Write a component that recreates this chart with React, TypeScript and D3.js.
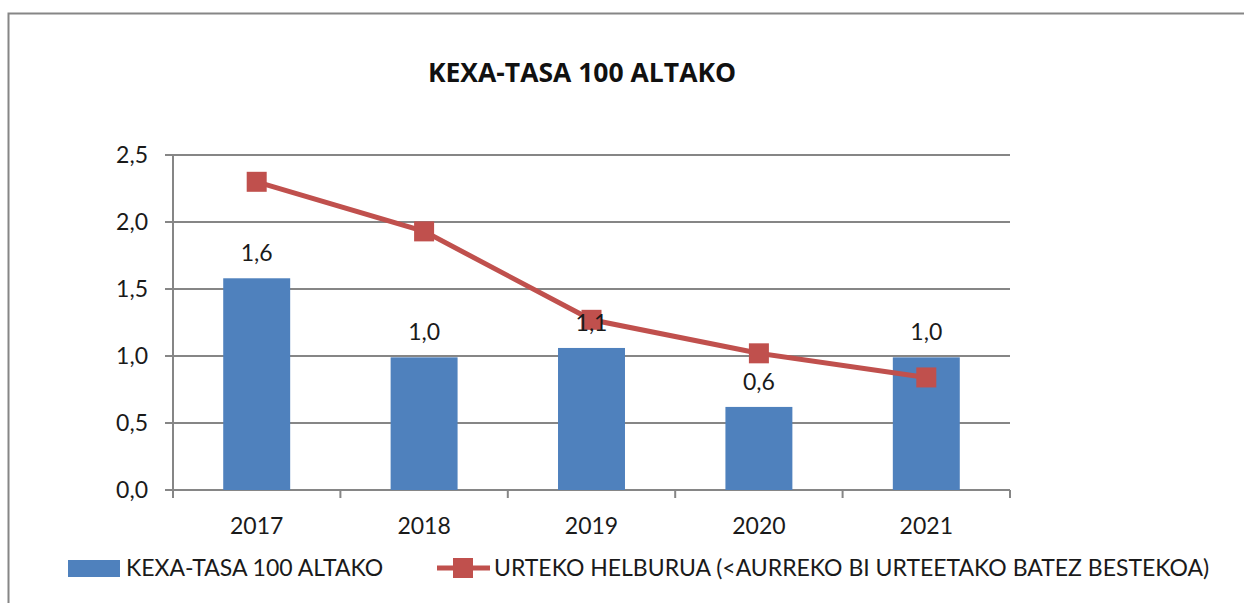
import React, { useEffect, useRef } from 'react';
import * as d3 from 'd3';

const years = ['2017', '2018', '2019', '2020', '2021'];
const rateValues = [1.58, 0.99, 1.06, 0.62, 0.99];
const rateLabels = ['1,6', '1,0', '1,1', '0,6', '1,0'];
const targetValues = [2.3, 1.93, 1.27, 1.02, 0.84];
const yTicks = [0, 0.5, 1, 1.5, 2, 2.5];
const titleText = 'KEXA-TASA 100 ALTAKO';
const barName = 'KEXA-TASA 100 ALTAKO';
const lineName = 'URTEKO HELBURUA (<AURREKO BI URTEETAKO BATEZ BESTEKOA)';

const W = 1244, H = 603;
const FONT = 'Lato, "Open Sans", sans-serif';

export default function App() {
    const ref = useRef<SVGSVGElement>(null);

    useEffect(() => {
        const svg = d3.select(ref.current);
        svg.selectAll('*').remove();

        const margin = { left: 173, right: 234, top: 155, bottom: 113 };
        const width = W - margin.left - margin.right;
        const height = H - margin.top - margin.bottom;

        // outer frame
        svg.append('rect')
            .attr('x', 8.5).attr('y', 13.5)
            .attr('width', W).attr('height', H)
            .attr('fill', 'white')
            .attr('stroke', '#868686')
            .attr('stroke-width', 2);

        svg.append('text')
            .attr('x', 582).attr('y', 82)
            .attr('text-anchor', 'middle')
            .style('font-family', '"Open Sans", Lato, sans-serif')
            .style('font-weight', 'bold')
            .style('font-size', '26.5px')
            .style('fill', '#111')
            .text(titleText);

        const x = d3.scaleBand().domain(years).range([0, width]).paddingInner(0.6).paddingOuter(0.3);
        const xCenter = (d: string) => (x(d) as number) + x.bandwidth() / 2;
        const y = d3.scaleLinear().domain([0, 2.5]).range([height, 0]);

        const g = svg.append('g').attr('transform', 'translate(' + margin.left + ',' + margin.top + ')');

        // grid lines
        g.selectAll('line.grid')
            .data(yTicks)
            .enter()
            .append('line')
            .attr('class', 'grid')
            .attr('x1', -8).attr('x2', width)
            .attr('y1', d => y(d)).attr('y2', d => y(d))
            .attr('stroke', '#868686')
            .attr('stroke-width', 2);

        // y axis line
        g.append('line')
            .attr('x1', 0).attr('x2', 0)
            .attr('y1', 0).attr('y2', height + 8)
            .attr('stroke', '#868686').attr('stroke-width', 2);

        // x ticks between categories
        const step = width / years.length;
        g.selectAll('line.xtick')
            .data(d3.range(years.length + 1))
            .enter()
            .append('line')
            .attr('class', 'xtick')
            .attr('x1', d => d * step).attr('x2', d => d * step)
            .attr('y1', height).attr('y2', height + 8)
            .attr('stroke', '#868686').attr('stroke-width', 2);

        g.selectAll('text.ylab')
            .data(yTicks)
            .enter()
            .append('text')
            .attr('class', 'ylab')
            .attr('x', -25).attr('y', d => y(d) + 8)
            .attr('text-anchor', 'end')
            .style('font-family', FONT)
            .style('font-size', '23px')
            .style('fill', '#1a1a1a')
            .text(d => d3.format('.1f')(d).replace('.', ','));

        g.selectAll('text.xlab')
            .data(years)
            .enter()
            .append('text')
            .attr('class', 'xlab')
            .attr('x', d => xCenter(d)).attr('y', height + 44)
            .attr('text-anchor', 'middle')
            .style('font-family', FONT)
            .style('font-size', '23px')
            .style('fill', '#1a1a1a')
            .text(d => d);

        g.selectAll('rect.bar')
            .data(rateValues)
            .enter()
            .append('rect')
            .attr('class', 'bar')
            .attr('x', (d, i) => x(years[i]) as number)
            .attr('y', d => y(d))
            .attr('width', x.bandwidth())
            .attr('height', d => height - y(d))
            .attr('fill', '#4F81BD');

        const line = d3.line<number>()
            .x((d, i) => xCenter(years[i]))
            .y(d => y(d));

        g.append('path')
            .datum(targetValues)
            .attr('d', line)
            .attr('fill', 'none')
            .attr('stroke', '#C0504D')
            .attr('stroke-width', 5);

        g.selectAll('rect.marker')
            .data(targetValues)
            .enter()
            .append('rect')
            .attr('class', 'marker')
            .attr('x', (d, i) => xCenter(years[i]) - 10)
            .attr('y', d => y(d) - 10)
            .attr('width', 20).attr('height', 20)
            .attr('fill', '#C0504D');

        // bar labels go on top of the line (the 2019 one overlaps its marker)
        g.selectAll('text.blab')
            .data(rateValues)
            .enter()
            .append('text')
            .attr('class', 'blab')
            .attr('x', (d, i) => xCenter(years[i]))
            .attr('y', d => y(d) - 17)
            .attr('text-anchor', 'middle')
            .style('font-family', FONT)
            .style('font-size', '23px')
            .style('fill', '#1a1a1a')
            .text((d, i) => rateLabels[i]);

        // legend
        const lg = svg.append('g');
        lg.append('rect')
            .attr('x', 68).attr('y', 560)
            .attr('width', 52).attr('height', 17)
            .attr('fill', '#4F81BD');
        lg.append('text')
            .attr('x', 126).attr('y', 576)
            .style('font-family', FONT)
            .style('font-size', '23px')
            .style('fill', '#1a1a1a')
            .text(barName);
        lg.append('line')
            .attr('x1', 437).attr('x2', 490)
            .attr('y1', 568).attr('y2', 568)
            .attr('stroke', '#C0504D').attr('stroke-width', 5);
        lg.append('rect')
            .attr('x', 453).attr('y', 558)
            .attr('width', 20).attr('height', 20)
            .attr('fill', '#C0504D');
        lg.append('text')
            .attr('x', 494).attr('y', 576)
            .style('font-family', FONT)
            .style('font-size', '23px')
            .style('fill', '#1a1a1a')
            .text(lineName);
    }, []);

    return (
        <div style={{ position: 'fixed', left: 0, top: 0 }}>
            <svg ref={ref} width={W} height={H} style={{ display: 'block', background: 'white' }} />
        </div>
    );
}
